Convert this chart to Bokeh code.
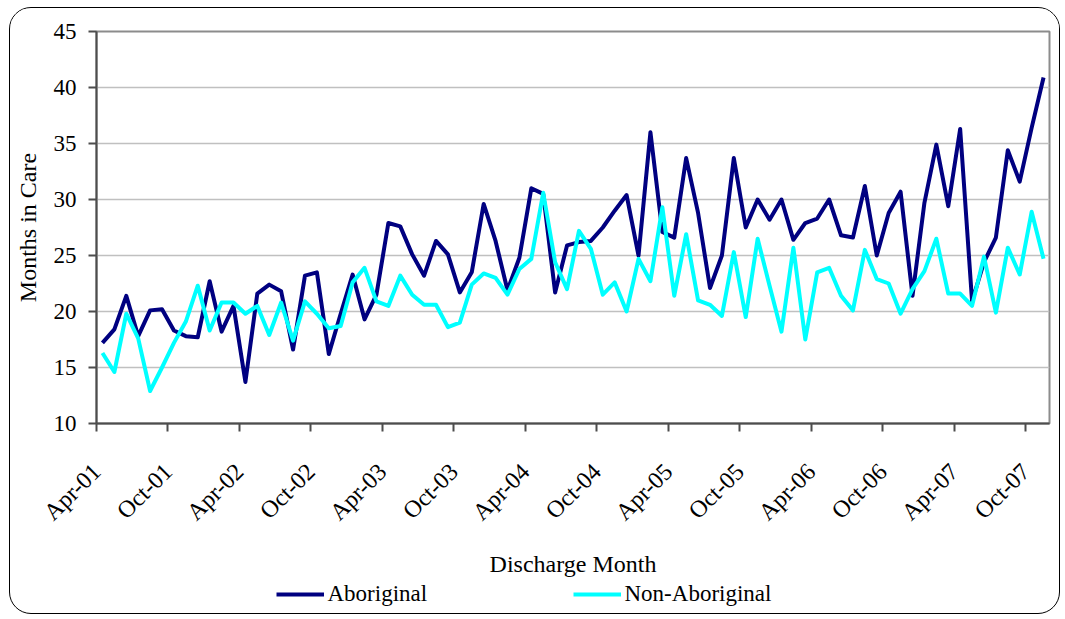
import numpy as np
import pandas as pd
from bokeh.plotting import figure
from bokeh.layouts import column
from bokeh.models import Range1d, FixedTicker, Legend, LegendItem, Title
from bokeh.embed import file_html
from bokeh.resources import INLINE

# Discharge months (category axis), Apr-01 .. Nov-07
months = list(pd.date_range("2001-04-01", periods=80, freq="MS").strftime("%b-%y"))

tick_labels = ["Apr-01", "Oct-01", "Apr-02", "Oct-02", "Apr-03", "Oct-03", "Apr-04",
               "Oct-04", "Apr-05", "Oct-05", "Apr-06", "Oct-06", "Apr-07", "Oct-07"]

aboriginal = [17.2, 18.4, 21.4, 17.8, 20.1, 20.2, 18.3, 17.8, 17.7, 22.7,
              18.2, 20.5, 13.7, 21.6, 22.4, 21.8, 16.6, 23.2, 23.5, 16.2,
              19.8, 23.3, 19.3, 21.5, 27.9, 27.6, 25.1, 23.2, 26.3, 25.1,
              21.7, 23.5, 29.6, 26.3, 21.9, 24.8, 31.0, 30.5, 21.7, 25.9,
              26.2, 26.3, 27.5, 29.0, 30.4, 25.0, 36.0, 27.1, 26.6, 33.7,
              28.8, 22.1, 25.0, 33.7, 27.5, 30.0, 28.2, 30.0, 26.4, 27.9,
              28.3, 30.0, 26.8, 26.6, 31.2, 25.0, 28.8, 30.7, 21.4, 29.7,
              34.9, 29.4, 36.3, 20.9, 24.4, 26.6, 34.4, 31.6, 36.4, 40.9]

non_aboriginal = [16.3, 14.6, 19.8, 17.6, 12.9, 15.0, 17.2, 19.1, 22.3, 18.3,
                  20.8, 20.8, 19.8, 20.5, 17.9, 20.8, 17.4, 20.9, 19.8, 18.5,
                  18.7, 22.6, 23.9, 20.9, 20.5, 23.2, 21.5, 20.6, 20.6, 18.6,
                  19.0, 22.4, 23.4, 23.0, 21.5, 23.8, 24.7, 30.6, 24.4, 22.0,
                  27.2, 25.6, 21.5, 22.6, 20.0, 24.7, 22.7, 29.3, 21.4, 26.9,
                  21.0, 20.6, 19.6, 25.3, 19.5, 26.5, 22.3, 18.2, 25.7, 17.5,
                  23.5, 23.9, 21.4, 20.1, 25.5, 22.9, 22.5, 19.8, 22.0, 23.6,
                  26.5, 21.6, 21.6, 20.5, 24.9, 19.9, 25.7, 23.3, 28.9, 24.7]

series_names = ["Aboriginal", "Non-Aboriginal"]
series_colors = ["#000080", "#00FFFF"]

FONT = "Liberation Serif"
x = list(range(len(months)))

# ---------------- main chart ----------------
p = figure(width=1049, height=583,
           min_border_left=86, min_border_top=23, min_border_right=10, min_border_bottom=168,
           x_range=Range1d(-0.5, len(months) - 0.5), y_range=Range1d(10, 45),
           output_backend="svg", toolbar_location=None)
p.background_fill_color = "white"
p.border_fill_color = "white"
p.outline_line_color = "#8c8c8c"
p.outline_line_width = 2

for vals, col in zip([aboriginal, non_aboriginal], series_colors):
    p.line(x, vals, line_color=col, line_width=4, line_join="round")

p.xgrid.visible = False
p.ygrid.grid_line_color = "#c0c0c0"
p.ygrid.grid_line_width = 1.5

xticks = [-0.5 + 6 * k for k in range(len(tick_labels))]
p.xaxis.ticker = FixedTicker(ticks=xticks)
p.xaxis.major_label_overrides = {t: lab for t, lab in zip(xticks, tick_labels)}
p.xaxis.major_label_orientation = np.pi / 4
p.xaxis.minor_tick_line_color = None

p.yaxis.ticker = FixedTicker(ticks=[10, 15, 20, 25, 30, 35, 40, 45])
p.yaxis.minor_tick_line_color = None
p.yaxis.axis_label = "Months in Care"
p.yaxis.axis_label_text_font = FONT
p.yaxis.axis_label_text_font_size = "24px"
p.yaxis.axis_label_text_font_style = "normal"
p.yaxis.axis_label_text_color = "black"
p.yaxis.axis_label_standoff = 10

for ax in (p.xaxis[0], p.yaxis[0]):
    ax.axis_line_color = "#4d4d4d"
    ax.axis_line_width = 2
    ax.major_tick_line_color = "#4d4d4d"
    ax.major_tick_line_width = 2
    ax.major_tick_in = 0
    ax.major_tick_out = 8
    ax.major_label_text_font = FONT
    ax.major_label_text_color = "black"
p.yaxis.major_label_text_font_size = "23px"
p.xaxis.major_label_text_font_size = "24px"
p.yaxis.major_label_standoff = 12
p.xaxis.major_label_standoff = 36

p.add_layout(Title(text="Discharge Month", align="center", offset=-22,
                   text_font=FONT, text_font_size="24px", text_font_style="normal",
                   text_color="black", standoff=22), "below")

# ---------------- legend strip ----------------
lg = figure(width=1049, height=30,
            min_border_left=86, min_border_right=10, min_border_top=0, min_border_bottom=0,
            x_range=p.x_range, y_range=Range1d(100, 101),
            output_backend="svg", toolbar_location=None)
lg.axis.visible = False
lg.grid.visible = False
lg.outline_line_color = None
lg.background_fill_alpha = 0
lg.border_fill_alpha = 0
lg.styles = {"margin-top": "-12px"}
items = []
for vals, col, name in zip([aboriginal, non_aboriginal], series_colors, series_names):
    r = lg.line(x, vals, line_color=col, line_width=4)
    items.append(LegendItem(label=name, renderers=[r]))
legend = Legend(items=items, orientation="horizontal", location="center",
                glyph_width=48, glyph_height=24, label_width=245, label_standoff=4,
                spacing=0, padding=0, margin=0,
                border_line_color=None, background_fill_alpha=0,
                label_text_font=FONT, label_text_font_size="23px", label_text_color="black")
lg.add_layout(legend, "center")

page = column(p, lg, spacing=0)
page.styles = {"border": "1.5px solid #000000", "border-radius": "22px",
               "margin-left": "9px", "margin-top": "7px", "padding-bottom": "4px",
               "background-color": "white", "overflow": "hidden"}

open("out.html", "w").write(file_html(page, INLINE))
